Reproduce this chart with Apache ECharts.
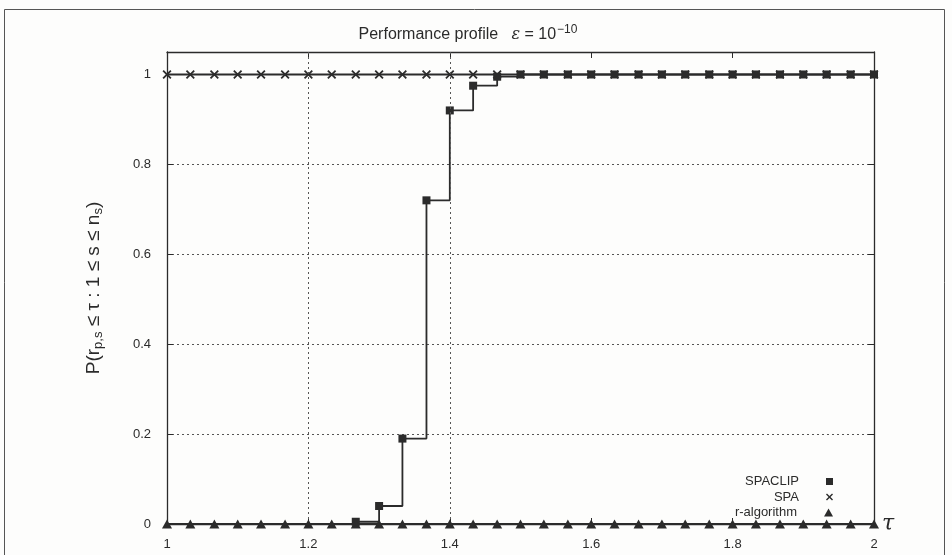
<!DOCTYPE html>
<html>
<head>
<meta charset="utf-8">
<script src="https://cdn.jsdelivr.net/npm/echarts@6/dist/echarts.min.js"></script>
<style>
  html, body { margin: 0; padding: 0; background: #fdfdfc; }
  #chart { width: 952px; height: 555px; }
</style>
</head>
<body>
<div id="chart"></div>
<script>
// tau sample points (x)
const tau = [1.000, 1.033, 1.067, 1.100, 1.133, 1.167, 1.200, 1.233, 1.267, 1.300,
  1.333, 1.367, 1.400, 1.433, 1.467, 1.500, 1.533, 1.567, 1.600, 1.633,
  1.667, 1.700, 1.733, 1.767, 1.800, 1.833, 1.867, 1.900, 1.933, 1.967, 2.000];
const spaclip = [0, 0, 0, 0, 0, 0, 0, 0, 0.005, 0.04,
  0.19, 0.72, 0.92, 0.975, 0.995, 1, 1, 1, 1, 1,
  1, 1, 1, 1, 1, 1, 1, 1, 1, 1, 1];
const spa = [1, 1, 1, 1, 1, 1, 1, 1, 1, 1,
  1, 1, 1, 1, 1, 1, 1, 1, 1, 1,
  1, 1, 1, 1, 1, 1, 1, 1, 1, 1, 1];
const ralg = [0, 0, 0, 0, 0, 0, 0, 0, 0, 0,
  0, 0, 0, 0, 0, 0, 0, 0, 0, 0,
  0, 0, 0, 0, 0, 0, 0, 0, 0, 0, 0];
const names = ['SPACLIP', 'SPA', 'r-algorithm'];
const vGridAt = [1.2, 1.4]; // only these vertical grid lines survive in the scan

const ink = '#2b2b2b';
const font = 'Liberation Sans';
const crossPath = 'path://M0,1.4L1.4,0L5,3.6L8.6,0L10,1.4L6.4,5L10,8.6L8.6,10L5,6.4L1.4,10L0,8.6L3.6,5Z';
const icons = ['rect', crossPath, 'triangle'];

const pairs = (ys) => tau.map((t, i) => [t, ys[i]]);

const legendRows = names.map((n, i) => ({
  right: 114,
  top: 470 + i * 15.5,
  orient: 'vertical',
  align: 'right',
  itemWidth: i === 2 ? 9 : 7,
  itemHeight: i === 2 ? 8 : 7,
  selectedMode: false,
  data: [{ name: n, icon: icons[i] }],
  textStyle: { fontFamily: font, fontSize: 13, color: ink, padding: [0, 22, 0, 0] }
}));

const chart = echarts.init(document.getElementById('chart'));
chart.setOption({
  backgroundColor: '#fdfdfc',
  animation: false,
  title: {
    text: '{a|Performance profile   }{e|ε}{a| = 10}{s|−10}',
    left: 463,
    textAlign: 'center',
    top: 19,
    textStyle: {
      rich: {
        a: { fontFamily: font, fontSize: 16, fontWeight: 'normal', color: ink },
        e: { fontFamily: 'DejaVu Serif', fontStyle: 'italic', fontWeight: 'normal', fontSize: 16, color: ink },
        s: { fontFamily: font, fontSize: 12, fontWeight: 'normal', color: ink, padding: [0, 0, 10, 1] }
      }
    }
  },
  graphic: [{
    type: 'rect',
    shape: { x: 4.5, y: 9.5, width: 940, height: 560 },
    style: { fill: 'none', stroke: '#555', lineWidth: 1 },
    silent: true
  }],
  legend: legendRows,
  grid: { left: 167, right: 78, top: 52, bottom: 31 },
  xAxis: [{
    type: 'value',
    min: 1, max: 2, interval: 0.2,
    name: 'τ',
    nameLocation: 'end',
    nameGap: 8,
    nameTextStyle: { fontFamily: 'DejaVu Serif', fontStyle: 'italic', fontSize: 22, color: ink, padding: [14, 0, 0, 0] },
    axisLine: { onZero: false, lineStyle: { color: ink, width: 1.3 } },
    axisTick: { inside: true, length: 6, lineStyle: { color: ink } },
    axisLabel: { fontFamily: font, fontSize: 13, color: ink, margin: 14,
      formatter: (v) => (v === 1 || v === 2) ? String(v) : v.toFixed(1) },
    splitLine: { show: false }
  }, {
    type: 'value',
    position: 'top',
    min: 1, max: 2, interval: 0.2,
    axisLine: { show: true, onZero: false, lineStyle: { color: ink, width: 1.3 } },
    axisTick: { show: true, inside: true, length: 6, lineStyle: { color: ink } },
    axisLabel: { show: false },
    splitLine: { show: false }
  }],
  yAxis: [{
    type: 'value',
    min: 0, max: 1.05, interval: 0.2,
    name: 'P(r{sub|p,s} ≤ τ : 1 ≤ s ≤ n{sub|s})',
    nameLocation: 'middle',
    nameRotate: 90,
    nameGap: 62,
    nameTextStyle: {
      fontFamily: font, fontSize: 19, color: ink,
      rich: { sub: { fontFamily: font, fontSize: 13, color: ink, padding: [9, 0, 0, 0] } }
    },
    axisLine: { show: true, onZero: false, lineStyle: { color: ink, width: 1.3 } },
    axisTick: { inside: true, length: 6, lineStyle: { color: ink } },
    axisLabel: { fontFamily: font, fontSize: 13, color: ink, margin: 16, showMaxLabel: false },
    splitLine: { show: true, lineStyle: { color: '#555', type: [2, 3], width: 1 } }
  }, {
    type: 'value',
    position: 'right',
    min: 0, max: 1.05, interval: 0.2,
    axisLine: { show: true, onZero: false, lineStyle: { color: ink, width: 1.3 } },
    axisTick: { show: true, inside: true, length: 6, lineStyle: { color: ink } },
    axisLabel: { show: false },
    splitLine: { show: false }
  }],
  series: [{
    name: 'SPA',
    type: 'line',
    data: pairs(spa),
    symbol: crossPath,
    symbolSize: 9,
    z: 3,
    itemStyle: { color: ink },
    lineStyle: { color: ink, width: 1.8 },
    markLine: {
      silent: true,
      symbol: 'none',
      label: { show: false },
      lineStyle: { color: '#555', type: [2, 3], width: 1 },
      data: vGridAt.map((x) => ({ xAxis: x }))
    }
  }, {
    name: 'SPACLIP',
    type: 'line',
    step: 'end',
    data: pairs(spaclip),
    symbol: 'rect',
    // squares sitting on the zero line are hidden under the triangles in the original
    symbolSize: (v) => (v[1] === 0 ? 0 : 8),
    z: 4,
    itemStyle: { color: ink },
    lineStyle: { color: ink, width: 1.8 }
  }, {
    name: 'r-algorithm',
    type: 'line',
    data: pairs(ralg),
    symbol: 'triangle',
    symbolSize: [10, 9],
    z: 5,
    itemStyle: { color: ink },
    lineStyle: { color: ink, width: 1.8 }
  }]
});
</script>
</body>
</html>
